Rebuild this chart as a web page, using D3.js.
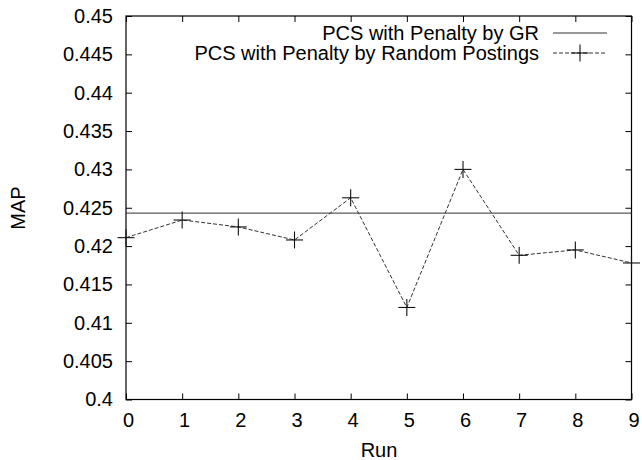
<!DOCTYPE html>
<html>
<head>
<meta charset="utf-8">
<script src="https://cdn.jsdelivr.net/npm/d3@7"></script>
<style>
  body { margin: 0; background: #fff; }
  text { font-family: "Liberation Sans", Arial, sans-serif; font-size: 20px; fill: #000; }
</style>
</head>
<body>
<svg id="chart" width="642" height="460"></svg>
<script>
// data
var runs = [0, 1, 2, 3, 4, 5, 6, 7, 8, 9];
var randomPostings = [0.4211, 0.4234, 0.4225, 0.4208, 0.4263, 0.4120, 0.4300, 0.4188, 0.4195, 0.4178];
var grValue = 0.4243;
var yTicks = [0.4, 0.405, 0.41, 0.415, 0.42, 0.425, 0.43, 0.435, 0.44, 0.445, 0.45];
var seriesNames = ['PCS with Penalty by GR', 'PCS with Penalty by Random Postings'];

var svg = d3.select('#chart');
var plotLeft = 126, plotRight = 631.5, plotTop = 16, plotBottom = 399.5;

var x = d3.scaleLinear().domain([0, 9]).range([plotLeft, plotRight]);
var y = d3.scaleLinear().domain([0.4, 0.45]).range([plotBottom, plotTop]);

// ticks on all four sides, pointing inward
var g = svg.append('g');
g.append('g').attr('class', 'xb').attr('transform', 'translate(0,' + plotBottom + ')')
	.call(d3.axisBottom(x).tickValues(runs).tickSize(-6).tickPadding(13).tickFormat(d3.format('d')));
g.append('g').attr('transform', 'translate(0,' + plotTop + ')')
	.call(d3.axisTop(x).tickValues(runs).tickSize(-6).tickFormat(''));
g.append('g').attr('transform', 'translate(' + plotLeft + ',0)')
	.call(d3.axisLeft(y).tickValues(yTicks).tickSize(-6).tickPadding(13).tickFormat(function(d) { return +d.toFixed(3); }));
g.append('g').attr('transform', 'translate(' + plotRight + ',0)')
	.call(d3.axisRight(y).tickValues(yTicks).tickSize(-6).tickFormat(''));
g.selectAll('.domain').remove();
g.selectAll('.tick line').attr('stroke', '#000');
g.selectAll('.tick text').style('font-size', '20px').style('font-family', '"Liberation Sans", Arial, sans-serif');
g.selectAll('.xb .tick text').attr('dx', 2);

svg.append('rect')
	.attr('x', plotLeft).attr('y', plotTop)
	.attr('width', plotRight - plotLeft).attr('height', plotBottom - plotTop)
	.attr('fill', 'none').attr('stroke', '#000').attr('stroke-width', 1.2);

// axis titles
svg.append('text').attr('x', 379).attr('y', 457).attr('text-anchor', 'middle').text('Run');
svg.append('text').attr('transform', 'translate(25,208) rotate(-90)').attr('text-anchor', 'middle').text('MAP');

// GR reference line
svg.append('line')
	.attr('x1', x(0)).attr('x2', x(9))
	.attr('y1', y(grValue)).attr('y2', y(grValue))
	.attr('stroke', '#333').attr('stroke-width', 1);

// random postings series
var line = d3.line().x(function(d, i) { return x(runs[i]); }).y(function(d) { return y(d); });
svg.append('path').datum(randomPostings)
	.attr('d', line)
	.attr('fill', 'none').attr('stroke', '#333').attr('stroke-width', 1)
	.attr('stroke-dasharray', '4,2');

var plus = function(sel, size) {
	sel.append('line').attr('x1', -size).attr('x2', size).attr('y1', 0).attr('y2', 0);
	sel.append('line').attr('x1', 0).attr('x2', 0).attr('y1', -size).attr('y2', size);
	sel.selectAll('line').attr('stroke', '#111').attr('stroke-width', 1.1);
};

svg.selectAll('.pt').data(randomPostings).enter().append('g')
	.attr('class', 'pt')
	.attr('transform', function(d, i) { return 'translate(' + x(runs[i]) + ',' + y(d) + ')'; })
	.call(plus, 8.5);

// legend
var legend = svg.append('g');
legend.selectAll('text').data(seriesNames).enter().append('text')
	.attr('x', 539).attr('y', function(d, i) { return 40 + i * 20; })
	.attr('text-anchor', 'end')
	.style('font-size', '20px')
	.text(function(d) { return d; });
legend.append('line').attr('x1', 553).attr('x2', 607).attr('y1', 33).attr('y2', 33)
	.attr('stroke', '#333');
legend.append('line').attr('x1', 553).attr('x2', 607).attr('y1', 53).attr('y2', 53)
	.attr('stroke', '#333').attr('stroke-dasharray', '4,2');
legend.append('g').attr('transform', 'translate(580,53)').call(plus, 8.5);
</script>
</body>
</html>
